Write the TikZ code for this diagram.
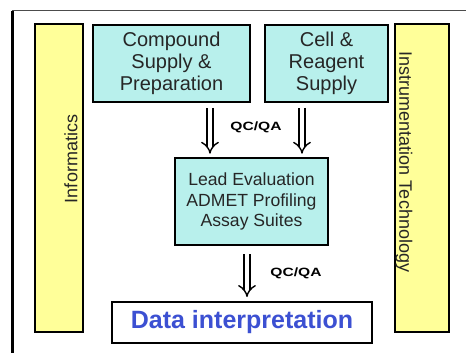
\documentclass[tikz,border=0pt]{standalone}
\usepackage{fontspec}
\setmainfont{Liberation Sans}
\usetikzlibrary{arrows.meta}
\definecolor{boxcyan}{RGB}{184,240,236}
\definecolor{baryellow}{RGB}{255,255,153}
\definecolor{datablue}{RGB}{60,80,210}

\begin{document}
\begin{tikzpicture}[x=0.5pt, y=-0.5pt,
  every node/.style={font=\fontsize{10}{11}\selectfont, text=black!85},
  stage/.style={draw, line width=1pt, fill=boxcyan, align=center, inner sep=0pt},
  sidebar/.style={draw, line width=1pt, fill=baryellow,
                  minimum width=24pt, minimum height=154pt},
  sidetext/.style={font=\fontsize{9}{10}\selectfont},
  qcqa/.style={font=\fontsize{6}{7}\selectfont\bfseries, xscale=1.3, text=black},
  flow/.style={double, double distance=2.4pt, line width=0.7pt, -{Implies}}]
  \fill[white] (0,0) rectangle (466,353);
  \useasboundingbox (0,0) rectangle (466,353);

  % frame
  \draw[line width=0.5pt, black!70] (12,11) -- (466,11);
  \draw[line width=1.5pt] (12,11) -- (12,353);

  % side bars
  \node[sidebar] (info) at (59,178) {};
  \node[sidebar, minimum width=27pt] (instr) at (422,178) {};
  \node[sidetext, rotate=90] (info-text) at (71,159) {Informatics};
  \node[sidetext, rotate=-90] (instr-text) at (404,162) {Instrumentation Technology};

  % stages
  \node[stage, minimum width=78.5pt, minimum height=38.5pt]
    (compound) at (171.5,63.5) {Compound\\Supply \&\\Preparation};
  \node[stage, minimum width=61.5pt, minimum height=38.5pt]
    (cell) at (326.5,63.5) {Cell \&\\Reagent\\Supply};
  \node[stage, line width=1.3pt, minimum width=76.5pt, minimum height=43.5pt,
        font=\fontsize{8.8}{10.25}\selectfont]
    (lead) at (251.5,201.5) {Lead Evaluation\\ADMET Profiling\\Assay Suites};
  \node[draw, line width=1pt, fill=white, minimum width=130pt, minimum height=20.5pt,
        font=\fontsize{12.5}{14}\selectfont\bfseries, text=datablue]
    (data) at (242,322.5) {Data interpretation};

  % QC/QA steps
  \draw[flow, shorten <=2.5pt, shorten >=1.5pt] (compound.south -| 210,0) -- (lead.north -| 210,0);
  \draw[flow, shorten <=2.5pt, shorten >=1.5pt] (cell.south -| 302,0) -- (lead.north -| 302,0);
  \draw[flow, shorten <=4pt, shorten >=2pt] (lead.south -| 247,0) -- (data.north -| 247,0);
  \node[qcqa] (qc-top) at (256,127) {QC/QA};
  \node[qcqa] (qc-bottom) at (296,273) {QC/QA};

\end{tikzpicture}
\end{document}
